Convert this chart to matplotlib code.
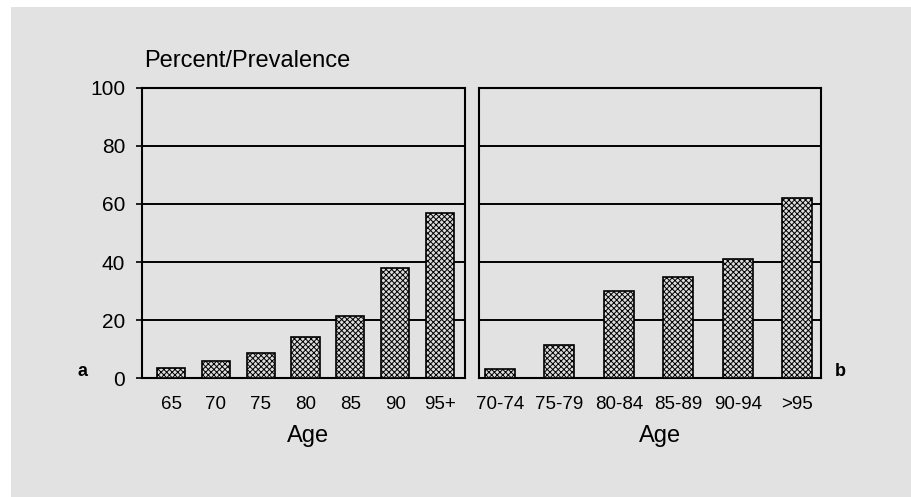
import matplotlib.pyplot as plt
from matplotlib.patches import Rectangle

# data
ages_a = ["65", "70", "75", "80", "85", "90", "95+"]
prev_a = [3.5, 6.0, 8.5, 14.0, 21.5, 38.0, 57.0]

ages_b = ["70-74", "75-79", "80-84", "85-89", "90-94", ">95"]
prev_b = [3.0, 11.5, 30.0, 35.0, 41.0, 62.0]

yticks = [0, 20, 40, 60, 80, 100]

bg = "#e2e2e2"
plt.rcParams['font.family'] = ['Liberation Sans', 'DejaVu Sans']
plt.rcParams['hatch.linewidth'] = 0.7

W, H = 911, 497
fig = plt.figure(figsize=(W / 100, H / 100), dpi=100)
fig.patch.set_facecolor("white")
fig.patches.append(Rectangle((11 / W, 0), 1, 1 - 7 / H, transform=fig.transFigure,
                             facecolor=bg, edgecolor="none", zorder=-10))

bottom = (H - 378) / H
height = (378 - 88) / H
ax1 = fig.add_axes([142 / W, bottom, (465 - 142) / W, height])
ax2 = fig.add_axes([479 / W, bottom, (821 - 479) / W, height])


def style(ax, labels, values, width, xlim):
    ax.set_facecolor(bg)
    x = range(len(labels))
    ax.bar(x, values, width=width, facecolor="#dcdcdc", edgecolor="black",
           hatch="xxxxxx", linewidth=1.2, zorder=3)
    for g in yticks[1:-1]:
        ax.axhline(g, color="black", lw=1.4, zorder=1)
    ax.set_ylim(0, 100)
    ax.set_xlim(*xlim)
    ax.set_xticks(list(x))
    ax.set_xticklabels(labels, fontsize=13.5)
    ax.tick_params(axis="x", length=0, pad=13)
    for s in ax.spines.values():
        s.set_linewidth(1.5)
        s.set_color("black")


style(ax1, ages_a, prev_a, 0.63, (-0.65, 6.56))
style(ax2, ages_b, prev_b, 0.5, (-0.35, 5.4))

ax1.set_yticks(yticks)
ax1.tick_params(axis="y", length=4, width=1.2, pad=8, labelsize=15)
ax2.set_yticks(yticks)
ax2.tick_params(axis="y", length=0, labelleft=False)

fig.text(144 / W, 1 - 67 / H, "Percent/Prevalence", fontsize=17, ha="left", va="baseline")
fig.text(308 / W, 1 - 436 / H, "Age", fontsize=17, ha="center", va="center")
fig.text(660 / W, 1 - 436 / H, "Age", fontsize=17, ha="center", va="center")
fig.text(82 / W, 1 - 372 / H, "a", fontsize=13, fontweight="bold", ha="center", va="center")
fig.text(840 / W, 1 - 372 / H, "b", fontsize=13, fontweight="bold", ha="center", va="center")

plt.savefig("out.png", dpi=100, facecolor=fig.get_facecolor())
